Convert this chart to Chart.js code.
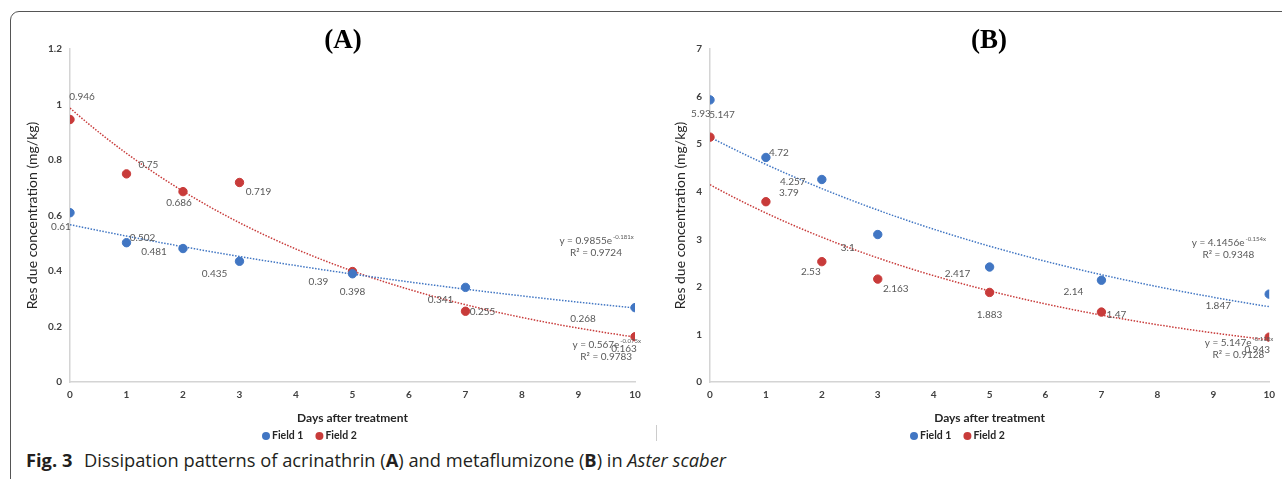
<!DOCTYPE html>
<html lang="en">
<head>
    <meta charset="UTF-8">
    <title>Fig. 3 Dissipation patterns</title>
    <script src="https://cdn.jsdelivr.net/npm/chart.js"></script>
    <style>
        html, body { margin: 0; padding: 0; background: #fff; width: 1282px; height: 479px; overflow: hidden; }
        .frame { position: absolute; left: 10px; top: 11px; width: 1300px; height: 520px; border: 1.5px solid #555; border-radius: 9px; }
        .panel { position: absolute; top: 0; height: 445px; }
        #wrapA { left: 0; width: 650px; }
        #wrapB { left: 650px; width: 632px; }
        .sep { position: absolute; left: 656px; top: 425px; width: 1px; height: 16px; background: #ccc; }
        .caption { position: absolute; left: 26px; top: 450px; font: 18.3px/20px "Open Sans", sans-serif; color: #231f20; white-space: nowrap; }
        .caption b.fig { margin-right: 7px; }
    </style>
</head>
<body>
    <div class="frame"></div>
    <div class="panel" id="wrapA"><canvas id="chartA"></canvas></div>
    <div class="panel" id="wrapB"><canvas id="chartB"></canvas></div>
    <div class="sep"></div>
    <div class="caption"><b class="fig">Fig. 3</b> Dissipation patterns of acrinathrin (<b>A</b>) and metaflumizone (<b>B</b>) in <i>Aster scaber</i></div>

    <script>
        // days after treatment
        const days = [0, 1, 2, 3, 5, 7, 10];

        // (A) acrinathrin
        const acrField1 = [0.61, 0.502, 0.481, 0.435, 0.39, 0.341, 0.268];
        const acrField2 = [0.946, 0.75, 0.686, 0.719, 0.398, 0.255, 0.163];

        // (B) metaflumizone
        const metField1 = [5.93, 4.72, 4.257, 3.1, 2.417, 2.14, 1.847];
        const metField2 = [5.147, 3.79, 2.53, 2.163, 1.883, 1.47, 0.943];

        // trendline labels as printed on the figure
        const eqA = [
            { main: 'y = 0.9855e', sup: '-0.181x', r2: 'R² = 0.9724', at: [9.31, 0.508] },
            { main: 'y = 0.567e', sup: '-0.075x', r2: 'R² = 0.9783', at: [9.49, 0.133] }
        ];
        const eqB = [
            { main: 'y = 4.1456e', sup: '-0.154x', r2: 'R² = 0.9348', at: [9.27, 2.92] },
            { main: 'y = 5.147e', sup: '-0.118x', r2: 'R² = 0.9128', at: [9.45, 0.82] }
        ];

        // where the data labels sit relative to their points (px)
        const offA1 = [[-9, 14], [16, -5], [-29, 3], [-25, 12], [-34, 8], [-25, 12], [-52, 11]];
        const offA2 = [[12, -23], [22, -9], [-4, 11], [19, 9], [0, 20], [17, 1], [-11, 12]];
        const offB1 = [[-9, 14], [13, -5], [-29, 2], [-30, 13], [-32, 7], [-28, 12], [-51, 12]];
        const offB2 = [[12, -22], [23, -9], [-11, 10], [18, 10], [0, 22], [15, 3], [-12, 13]];

        const BLUE = '#4176c3';
        const RED = '#c83b3a';

        // exponential least squares fit, same as the spreadsheet trendline
        function expFit(xs, ys) {
            const n = xs.length;
            const ly = ys.map(v => Math.log(v));
            const mx = xs.reduce((a, b) => a + b, 0) / n;
            const my = ly.reduce((a, b) => a + b, 0) / n;
            let sxy = 0, sxx = 0;
            xs.forEach((x, i) => { sxy += (x - mx) * (ly[i] - my); sxx += (x - mx) * (x - mx); });
            const b = sxy / sxx;
            const a = Math.exp(my - b * mx);
            const pts = [];
            for (let x = 0; x <= 10.001; x += 0.1) pts.push({ x: x, y: a * Math.exp(b * x) });
            return pts;
        }

        const annotate = {
            id: 'annotate',
            afterDatasetsDraw(chart, args, o) {
                const ctx = chart.ctx, xs = chart.scales.x, ys = chart.scales.y;
                ctx.save();
                ctx.textAlign = 'center';
                ctx.textBaseline = 'middle';

                ctx.font = 'bold 27px "Liberation Serif"';
                ctx.fillStyle = '#000';
                ctx.fillText(o.panel, o.panelX, 41);

                ctx.font = '10px Lato';
                ctx.fillStyle = '#595959';
                o.series.forEach(s => {
                    s.values.forEach((v, i) => {
                        const px = xs.getPixelForValue(days[i]) + s.off[i][0];
                        const py = ys.getPixelForValue(v) + s.off[i][1];
                        ctx.fillText(String(v), px, py);
                    });
                });

                o.equations.forEach(eq => {
                    const cx = xs.getPixelForValue(eq.at[0]);
                    const cy = ys.getPixelForValue(eq.at[1]);
                    ctx.font = '10px Lato';
                    const w1 = ctx.measureText(eq.main).width;
                    ctx.font = '6px Lato';
                    const w2 = ctx.measureText(eq.sup).width;
                    const x0 = cx - (w1 + w2) / 2;
                    ctx.textAlign = 'left';
                    ctx.font = '10px Lato';
                    ctx.fillText(eq.main, x0, cy);
                    ctx.font = '6px Lato';
                    ctx.fillText(eq.sup, x0 + w1 + 1, cy - 4);
                    ctx.textAlign = 'center';
                    ctx.font = '10px Lato';
                    ctx.fillText(eq.r2, cx, cy + 12);
                });

                // legend
                let lx = o.legendX;
                ctx.textAlign = 'left';
                ctx.font = 'bold 10.5px Lato';
                [['Field 1', BLUE], ['Field 2', RED]].forEach(([t, c]) => {
                    ctx.fillStyle = c;
                    ctx.beginPath();
                    ctx.arc(lx + 4, 436, 4, 0, Math.PI * 2);
                    ctx.fill();
                    ctx.fillStyle = '#262626';
                    ctx.fillText(t, lx + 10, 436);
                    lx += 10 + ctx.measureText(t).width + 12;
                });
                ctx.restore();
            }
        };

        function makeChart(id, f1, f2, ymax, ystep, yWidth, padLeft, padRight, extra) {
            return new Chart(document.getElementById(id), {
                type: 'scatter',
                data: {
                    datasets: [
                        { label: 'Field 1', data: days.map((d, i) => ({ x: d, y: f1[i] })), backgroundColor: BLUE, borderColor: BLUE, pointRadius: 4.2, order: 1 },
                        { label: 'Field 2', data: days.map((d, i) => ({ x: d, y: f2[i] })), backgroundColor: RED, borderColor: RED, pointRadius: 4.2, order: 1 },
                        { label: 'trend 1', type: 'line', data: expFit(days, f1), borderColor: BLUE, borderWidth: 1.5, borderDash: [1.5, 1.5], pointRadius: 0, fill: false, order: 2 },
                        { label: 'trend 2', type: 'line', data: expFit(days, f2), borderColor: RED, borderWidth: 1.5, borderDash: [1.5, 1.5], pointRadius: 0, fill: false, order: 2 }
                    ]
                },
                options: {
                    responsive: true,
                    maintainAspectRatio: false,
                    animation: false,
                    events: [],
                    layout: { padding: { left: padLeft, top: 49, right: padRight, bottom: 0 } },
                    plugins: { legend: { display: false }, tooltip: { enabled: false }, annotate: extra },
                    scales: {
                        x: {
                            type: 'linear', min: 0, max: 10,
                            afterFit: s => { s.height = 63; },
                            grid: { display: false, drawTicks: false },
                            border: { display: true, color: '#d4d4d4', width: 1.5 },
                            ticks: { stepSize: 1, padding: 7, color: '#404040', font: { family: 'Lato', size: 10, weight: 'bold' } },
                            title: { display: true, text: 'Days after treatment', color: '#262626', font: { family: 'Lato', size: 12, weight: 'bold' }, padding: { top: 0, bottom: 20 } }
                        },
                        y: {
                            min: 0, max: ymax,
                            afterFit: s => { s.width = yWidth; },
                            grid: { display: false, drawTicks: false },
                            border: { display: true, color: '#d4d4d4', width: 1.5 },
                            ticks: { stepSize: ystep, padding: 8, color: '#404040', font: { family: 'Lato', size: 10, weight: 'bold' }, callback: v => String(+v.toFixed(1)) },
                            title: { display: true, text: 'Res due concentration (mg/kg)', color: '#262626', font: { family: 'Lato', size: 14 }, padding: { top: 4, bottom: 0 } }
                        }
                    }
                },
                plugins: [annotate]
            });
        }

        makeChart('chartA', acrField1, acrField2, 1.2, 0.2, 50, 20, 15, {
            panel: '(A)', panelX: 343, legendX: 262, equations: eqA,
            series: [{ values: acrField1, off: offA1 }, { values: acrField2, off: offA2 }]
        });
        makeChart('chartB', metField1, metField2, 7, 1, 42, 18, 8, {
            panel: '(B)', panelX: 339, legendX: 260, equations: eqB,
            series: [{ values: metField1, off: offB1 }, { values: metField2, off: offB2 }]
        });
    </script>
</body>
</html>
